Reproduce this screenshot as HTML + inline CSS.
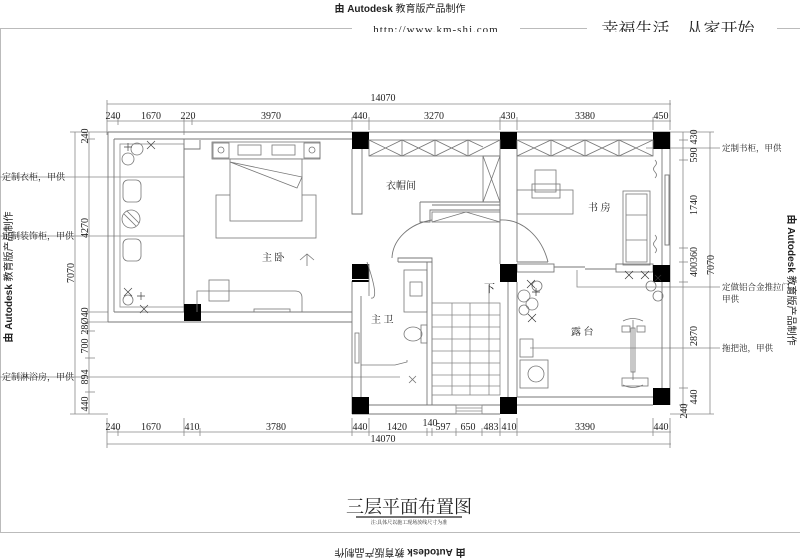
<!DOCTYPE html>
<html><head><meta charset="utf-8"><style>
html,body{margin:0;padding:0;background:#fff;}
svg{display:block;}
text{font-family:"Liberation Serif","Noto Serif CJK SC",serif;fill:#222;}
.s{font-family:"Liberation Sans","Noto Sans CJK SC",sans-serif;}
</style></head><body>
<svg width="800" height="559" viewBox="0 0 800 559" xmlns="http://www.w3.org/2000/svg">
<defs><clipPath id="hc"><rect x="0" y="0" width="800" height="32"/></clipPath></defs>
<g stroke="#bbb" stroke-width="1" fill="none">
<line x1="0" y1="28.5" x2="352" y2="28.5"/><line x1="520" y1="28.5" x2="587" y2="28.5"/><line x1="777" y1="28.5" x2="800" y2="28.5"/>
<line x1="0.5" y1="28" x2="0.5" y2="532"/>
<line x1="0" y1="532.5" x2="800" y2="532.5"/>
</g>
<text x="400" y="12" font-size="10" text-anchor="middle" class="s"><tspan font-weight="bold">由 Autodesk</tspan> 教育版产品制作</text>
<g clip-path="url(#hc)">
<text x="436" y="33" font-size="11" text-anchor="middle" fill="#555" letter-spacing="1">http://www.km-shj.com</text>
<text x="678" y="35" font-size="17" text-anchor="middle" fill="#444">幸福生活，从家开始</text>
</g>
<text x="0" y="0" font-size="10" text-anchor="middle" class="s" transform="translate(12,277) rotate(-90)"><tspan font-weight="bold">由 Autodesk</tspan> 教育版产品制作</text>
<text x="0" y="0" font-size="10" text-anchor="middle" class="s" transform="translate(788,280) rotate(90)"><tspan font-weight="bold">由 Autodesk</tspan> 教育版产品制作</text>
<text x="0" y="0" font-size="10" text-anchor="middle" class="s" transform="translate(400,549) rotate(180)"><tspan font-weight="bold">由 Autodesk</tspan> 教育版产品制作</text>

<g stroke="#888" stroke-width="0.8" fill="none">
<line x1="107" y1="104" x2="671" y2="104"/>
<line x1="107" y1="121" x2="671" y2="121"/>
<g>
<line x1="107" y1="100" x2="107" y2="135"/><line x1="118" y1="117" x2="118" y2="125"/><line x1="184" y1="117" x2="184" y2="135"/><line x1="192" y1="117" x2="192" y2="125"/><line x1="352" y1="117" x2="352" y2="130"/><line x1="369" y1="117" x2="369" y2="130"/><line x1="500" y1="117" x2="500" y2="130"/><line x1="517" y1="117" x2="517" y2="130"/><line x1="653" y1="117" x2="653" y2="130"/><line x1="670" y1="100" x2="670" y2="130"/>
</g>
<line x1="107" y1="432" x2="671" y2="432"/>
<line x1="107" y1="444" x2="671" y2="444"/>
<g>
<line x1="107" y1="418" x2="107" y2="448"/><line x1="118" y1="428" x2="118" y2="436"/><line x1="184" y1="418" x2="184" y2="436"/><line x1="200" y1="428" x2="200" y2="436"/><line x1="352" y1="418" x2="352" y2="436"/><line x1="369" y1="418" x2="369" y2="436"/><line x1="427" y1="428" x2="427" y2="436"/><line x1="432" y1="428" x2="432" y2="436"/><line x1="456" y1="428" x2="456" y2="436"/><line x1="482" y1="428" x2="482" y2="436"/><line x1="500" y1="418" x2="500" y2="436"/><line x1="517" y1="418" x2="517" y2="436"/><line x1="653" y1="418" x2="653" y2="436"/><line x1="670" y1="418" x2="670" y2="448"/>
</g>
<line x1="75" y1="132" x2="75" y2="414"/>
<line x1="89" y1="132" x2="89" y2="414"/>
<g>
<line x1="70" y1="132" x2="108" y2="132"/><line x1="85" y1="139" x2="95" y2="139"/><line x1="85" y1="312" x2="108" y2="312"/><line x1="85" y1="322" x2="108" y2="322"/><line x1="85" y1="331" x2="95" y2="331"/><line x1="85" y1="358" x2="95" y2="358"/><line x1="85" y1="392" x2="95" y2="392"/><line x1="70" y1="414" x2="108" y2="414"/>
</g>
<line x1="683" y1="132" x2="683" y2="414"/>
<line x1="710" y1="132" x2="710" y2="414"/>
<g>
<line x1="670" y1="132" x2="714" y2="132"/><line x1="679" y1="140" x2="688" y2="140"/><line x1="679" y1="160" x2="688" y2="160"/><line x1="679" y1="248" x2="688" y2="248"/><line x1="679" y1="262" x2="688" y2="262"/><line x1="679" y1="282" x2="688" y2="282"/><line x1="679" y1="388" x2="688" y2="388"/><line x1="679" y1="405" x2="688" y2="405"/><line x1="670" y1="414" x2="714" y2="414"/>
</g>
<line x1="0" y1="177" x2="184" y2="177"/>
<line x1="0" y1="236" x2="184" y2="236"/>
<line x1="0" y1="377" x2="400" y2="377"/>
<line x1="646" y1="148" x2="720" y2="148"/>
<polyline points="577,270 577,287 720,287"/>
<line x1="530" y1="348" x2="720" y2="348"/>
</g>
<g font-size="10" text-anchor="middle">
<text x="383" y="101">14070</text>
<text x="113" y="119">240</text><text x="151" y="119">1670</text><text x="188" y="119">220</text><text x="271" y="119">3970</text><text x="360" y="119">440</text><text x="434" y="119">3270</text><text x="508" y="119">430</text><text x="585" y="119">3380</text><text x="661" y="119">450</text>
<text x="113" y="430">240</text><text x="151" y="430">1670</text><text x="192" y="430">410</text><text x="276" y="430">3780</text><text x="360" y="430">440</text><text x="397" y="430">1420</text><text x="430" y="426">140</text><text x="443" y="430">597</text><text x="468" y="430">650</text><text x="491" y="430">483</text><text x="509" y="430">410</text><text x="585" y="430">3390</text><text x="661" y="430">440</text>
<text x="383" y="442">14070</text>
</g>
<g font-size="10" text-anchor="middle">
<text transform="translate(74,273) rotate(-90)">7070</text>
<text transform="translate(88,136) rotate(-90)">240</text>
<text transform="translate(88,228) rotate(-90)">4270</text>
<text transform="translate(88,321) rotate(-90)">28Ø40</text>
<text transform="translate(88,346) rotate(-90)">700</text>
<text transform="translate(88,377) rotate(-90)">894</text>
<text transform="translate(88,404) rotate(-90)">440</text>
<text transform="translate(714,265) rotate(-90)">7070</text>
<text transform="translate(697,137) rotate(-90)">430</text>
<text transform="translate(697,155) rotate(-90)">590</text>
<text transform="translate(697,205) rotate(-90)">1740</text>
<text transform="translate(697,262) rotate(-90)">400360</text>
<text transform="translate(697,336) rotate(-90)">2870</text>
<text transform="translate(697,397) rotate(-90)">440</text>
<text transform="translate(687,411) rotate(-90)">240</text>
</g>
<g font-size="9">
<text x="2" y="180">定制衣柜，甲供</text>
<text x="2" y="239">定制装饰柜，甲供</text>
<text x="2" y="380">定制淋浴房，甲供</text>
</g>
<g font-size="8.5">
<text x="722" y="151">定制书柜，甲供</text>
<text x="722" y="290">定做铝合金推拉门,</text>
<text x="722" y="302">甲供</text>
<text x="722" y="351">拖把池，甲供</text>
</g>

<g stroke="#777" stroke-width="0.9" fill="none">
<line x1="108" y1="132" x2="670" y2="132"/>
<line x1="114" y1="139" x2="352" y2="139"/>
<line x1="108" y1="132" x2="108" y2="322"/>
<line x1="114" y1="139" x2="114" y2="312"/>
<line x1="114" y1="312" x2="352" y2="312"/>
<line x1="108" y1="322" x2="352" y2="322"/>
<rect x="120" y="144" width="64" height="163" stroke="#999"/>
<line x1="184" y1="139" x2="184" y2="312"/>
<polyline points="184,149 200,149 200,140"/>
<polyline points="352,149 352,214 362,214 362,149"/>
<polyline points="352,281 352,414"/>
<polyline points="361,296 361,405"/>
<line x1="361" y1="405" x2="500" y2="405"/>
<line x1="352" y1="414" x2="500" y2="414"/>
<line x1="427" y1="262" x2="427" y2="405"/>
<line x1="432" y1="262" x2="432" y2="405"/>
<polyline points="398,262 432,262 432,258 398,258 398,262"/>
<polyline points="420,202 500,202 500,210 430,210 430,222 420,222 420,202"/>
<line x1="432" y1="205" x2="500" y2="205"/>
<path d="M392,258 A50,40 0 0 1 432,220" />
<path d="M500,220 A48,60 0 0 1 548,262"/>
<line x1="508" y1="282" x2="508" y2="397"/>
<line x1="517" y1="282" x2="517" y2="397"/>
<line x1="517" y1="397" x2="653" y2="397"/>
<line x1="517" y1="405" x2="653" y2="405"/>
<polyline points="500,149 500,264"/>
<polyline points="517,149 517,262"/>
<rect x="517" y="264" width="37" height="8"/>
<rect x="616" y="264" width="37" height="8"/>
<line x1="554" y1="267" x2="585" y2="267"/><line x1="585" y1="269" x2="616" y2="269"/>
<line x1="517" y1="262" x2="548" y2="262"/>
<line x1="662" y1="149" x2="662" y2="265"/>
<line x1="670" y1="132" x2="670" y2="405"/>
<line x1="662" y1="282" x2="662" y2="388"/>
<rect x="665" y="175" width="4" height="70"/>
</g>

<g fill="#000">
<rect x="352" y="132" width="17" height="17"/><rect x="500" y="132" width="17" height="17"/><rect x="653" y="132" width="17" height="17"/>
<rect x="184" y="304" width="17" height="17"/>
<rect x="352" y="264" width="17" height="15"/><rect x="352" y="280" width="17" height="2"/>
<rect x="500" y="264" width="17" height="18"/>
<rect x="653" y="265" width="17" height="17"/>
<rect x="352" y="397" width="17" height="17"/><rect x="500" y="397" width="17" height="17"/><rect x="653" y="388" width="17" height="17"/>
</g>

<g stroke="#777" stroke-width="0.8" fill="none">
<rect x="369" y="140" width="131" height="16"/>
<path d="M369,140 L402,156 L435,140 L468,156 L500,140 M369,156 L402,140 L435,156 L468,140 L483,147 M402,140 V156 M435,140 V156 M468,140 V156"/>
<rect x="483" y="156" width="17" height="46"/>
<path d="M483,156 L500,202 M500,156 L483,202"/>
<rect x="517" y="140" width="136" height="16"/>
<path d="M517,140 L551,156 L585,140 L619,156 L653,140 M517,156 L551,140 L585,156 L619,140 L653,156 M551,140 V156 M585,140 V156 M619,140 V156"/>
<rect x="432" y="212" width="68" height="10"/>
<path d="M432,222 L466,212 L500,222"/>
</g>

<g stroke="#777" stroke-width="0.8" fill="none">
<rect x="212" y="142" width="108" height="17"/>
<rect x="213" y="143" width="16" height="15"/><rect x="304" y="143" width="16" height="15"/>
<circle cx="221" cy="150" r="3"/><circle cx="312" cy="150" r="3"/>
<rect x="238" y="145" width="23" height="10"/><rect x="272" y="145" width="23" height="10"/>
<rect x="216" y="195" width="100" height="43"/>
<rect x="230" y="159" width="72" height="62" fill="#fff"/>
<path d="M230,162 L302,177 L297,188 Z"/>
<rect x="123" y="180" width="18" height="22" rx="5"/>
<circle cx="131" cy="219" r="9"/><path d="M124,214 L136,226 M127,211 L139,223"/>
<rect x="123" y="239" width="18" height="22" rx="5"/>
<circle cx="128" cy="159" r="6"/><circle cx="137" cy="149" r="6"/>
<circle cx="128" cy="300" r="5"/>
<path d="M197,312 V291 H295 Q302,291 302,298 V312"/>
<rect x="209" y="280" width="20" height="21"/>
<rect x="254" y="309" width="36" height="3"/>
<path d="M300,260 L307,254 L314,260 M307,254 V266"/>
</g>
<g stroke="#444" stroke-width="0.7" fill="none">
<path d="M124,147 l8,0 m-4,-4 l0,8 M147,141 l8,8 m0,-8 l-8,8 M124,288 l8,8 m0,-8 l-8,8 M137,296 l8,0 m-4,-4 l0,8 M140,305 l8,8 m0,-8 l-8,8"/>
</g>

<g stroke="#777" stroke-width="0.8" fill="none">
<rect x="404" y="270" width="23" height="42"/>
<rect x="410" y="282" width="12" height="14"/>
<rect x="421" y="325" width="6" height="18"/>
<ellipse cx="413" cy="334" rx="9" ry="7"/>
<rect x="355" y="333" width="4" height="30"/>
<polyline points="361,365 395,365 407,362 407,360"/>
<path d="M367,262 Q380,300 371,298" />
<line x1="369" y1="296" x2="369" y2="264"/>
<path d="M409,376 l7,7 m0,-7 l-7,7"/>
</g>

<g stroke="#888" stroke-width="0.8" fill="none">
<rect x="432" y="303" width="68" height="92"/>
<path d="M432,315 H500 M432,327 H500 M432,339 H500 M432,351 H500 M432,363 H500 M432,375 H500 M432,386 H500"/>
<line x1="452" y1="303" x2="452" y2="395"/><line x1="470" y1="303" x2="470" y2="395"/><line x1="489" y1="303" x2="489" y2="395"/>
<line x1="489" y1="285" x2="489" y2="303"/>
<rect x="456" y="405" width="26" height="9"/><line x1="456" y1="408" x2="482" y2="408"/><line x1="456" y1="411" x2="482" y2="411"/>
</g>

<g stroke="#777" stroke-width="0.8" fill="none">
<rect x="517" y="190" width="56" height="24"/>
<rect x="532" y="184" width="28" height="14"/>
<rect x="535" y="170" width="21" height="22"/>
<rect x="623" y="191" width="27" height="74"/>
<rect x="626" y="194" width="21" height="68"/>
<path d="M626,215 H647 M626,240 H647"/>
<path d="M655,160 q3,3 0,6 q-3,3 0,6 q3,3 0,6 M655,235 q3,3 0,6 q-3,3 0,6 q3,3 0,6"/>
<rect x="520" y="339" width="13" height="18"/>
<rect x="520" y="360" width="28" height="28"/><circle cx="536" cy="374" r="8"/>
<line x1="633" y1="320" x2="633" y2="380"/><rect x="631" y="328" width="4" height="44"/>
<path d="M623,321 Q633,316 643,321 M623,385 Q633,390 643,385"/>
<rect x="622" y="326" width="8" height="6"/><rect x="637" y="326" width="8" height="6"/>
<rect x="622" y="378" width="26" height="8"/>
<circle cx="524" cy="296" r="6"/><circle cx="532" cy="304" r="6"/><circle cx="524" cy="310" r="5"/><circle cx="537" cy="286" r="5"/>
<circle cx="651" cy="286" r="5"/><circle cx="658" cy="296" r="5"/>
</g>
<g stroke="#333" stroke-width="0.7" fill="none">
<path d="M527,280 l8,8 m0,-8 l-8,8 M532,292 l8,0 m-4,-4 l0,8 M528,314 l8,8 m0,-8 l-8,8 M625,271 l8,8 m0,-8 l-8,8 M641,271 l8,8 m0,-8 l-8,8 M655,275 l6,6 m0,-6 l-6,6"/>
</g>

<g font-size="10">
<text x="262" y="261">主 卧</text>
<text x="386" y="189">衣帽间</text>
<text x="588" y="211">书 房</text>
<text x="371" y="323">主 卫</text>
<text x="484" y="292" font-size="11">下</text>
<text x="571" y="335">露 台</text>
</g>
<text x="409" y="513" font-size="18" text-anchor="middle">三层平面布置图</text>
<line x1="356" y1="517" x2="462" y2="517" stroke="#222" stroke-width="1.2"/>
<text x="409" y="524" font-size="5" text-anchor="middle">注:具体尺以施工现场放线尺寸为准</text>
</svg>
</body></html>
